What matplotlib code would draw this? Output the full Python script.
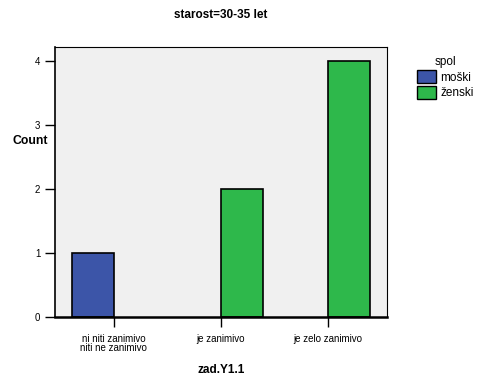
import numpy as np
import matplotlib
matplotlib.use("Agg")
import matplotlib.pyplot as plt
from matplotlib.patches import Patch

plt.rcParams['font.family'] = ['Liberation Sans', 'DejaVu Sans']

categories = ["ni niti zanimivo\nniti ne zanimivo", "je zanimivo", "je zelo zanimivo"]
moski = [1, 0, 0]
zenski = [0, 2, 4]
blue = "#3c55a8"
green = "#2eb84b"

fig = plt.figure(figsize=(4.78, 3.81), dpi=100)
ax = fig.add_axes([0.115, 0.168, 0.6946, 0.7087])
ax.set_facecolor("#f0f0f0")

x = np.arange(len(categories))
w = 0.39
# skip empty bars so no outline is drawn at zero
for xi, v in zip(x, moski):
    if v > 0:
        ax.bar(xi - w / 2, v, w, color=blue, edgecolor="black", linewidth=1.2)
for xi, v in zip(x, zenski):
    if v > 0:
        ax.bar(xi + w / 2, v, w, color=green, edgecolor="black", linewidth=1.2)

ax.set_xlim(-0.55, 2.55)
ax.set_ylim(0, 4.22)
ax.set_xticks(x)
ax.set_xticklabels(categories, fontsize=7, linespacing=0.95)
ax.set_yticks([0, 1, 2, 3, 4])
ax.tick_params(axis='y', labelsize=7, length=7, width=1)
ax.tick_params(axis='x', length=7, width=1, pad=5)
for s in ax.spines.values():
    s.set_linewidth(0.8)
ax.spines['bottom'].set_linewidth(1.8)
ax.spines['left'].set_linewidth(1.2)

ax.set_title("starost=30-35 let", fontsize=8.5, fontweight='bold', pad=21)
ax.set_xlabel("zad.Y1.1", fontsize=8.5, fontweight='bold', labelpad=8)
ax.set_ylabel("Count", fontsize=8.8, fontweight='bold', rotation=0)
ax.yaxis.set_label_coords(-0.075, 0.63)

handles = [Patch(facecolor=blue, edgecolor="black", label="moški"),
           Patch(facecolor=green, edgecolor="black", label="ženski")]
leg = fig.legend(handles=handles, title="spol", loc="upper left",
                 bbox_to_anchor=(0.855, 0.875), frameon=False, fontsize=8.5,
                 title_fontsize=8.5, handlelength=1.6, handleheight=1.3,
                 handletextpad=0.4, labelspacing=0.2, borderpad=0.2)

fig.savefig("out.png", dpi=100)
